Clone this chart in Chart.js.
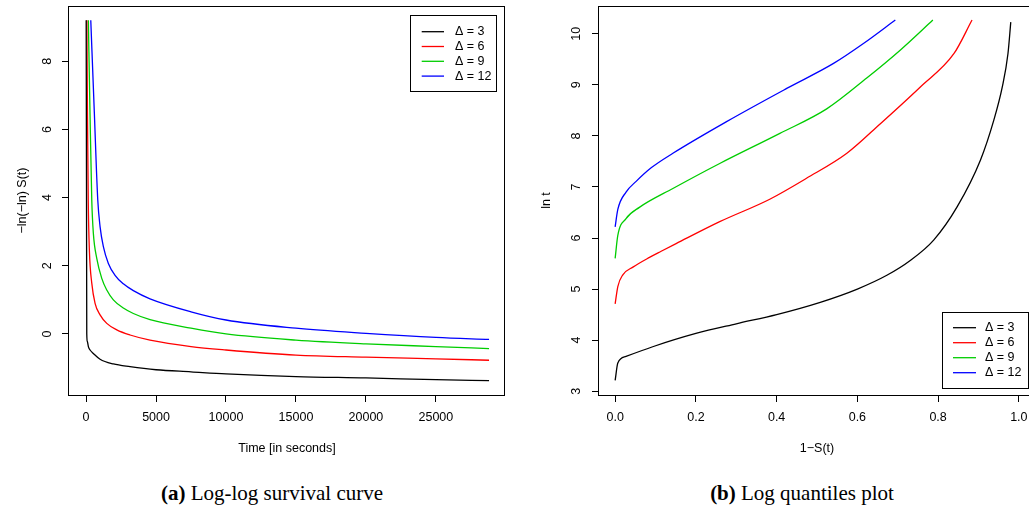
<!DOCTYPE html>
<html>
<head>
<meta charset="utf-8">
<script src="https://cdn.jsdelivr.net/npm/chart.js@4.4.1/dist/chart.umd.min.js"></script>
<style>
  body { margin: 0; width: 1029px; height: 509px; overflow: hidden; background: #fff; position: relative; }
  #ca { position: absolute; left: 0; top: 0; }
  #cb { position: absolute; left: 515px; top: 0; }
  .cap { position: absolute; top: 483px; font: 21px/21px "Liberation Serif", "Times New Roman", serif; white-space: nowrap; transform: translateX(-50%); }
</style>
</head>
<body>
<canvas id="ca" width="515" height="470"></canvas>
<canvas id="cb" width="525" height="470"></canvas>
<div class="cap" style="left:272px"><b>(a)</b> Log-log survival curve</div>
<div class="cap" style="left:802px"><b>(b)</b> Log quantiles plot</div>
<script>
// series legend
const deltaLabels = ['Δ = 3', 'Δ = 6', 'Δ = 9', 'Δ = 12'];
const colors = ['#000000', '#ff0000', '#00cd00', '#0000ff'];

// (a) log-log survival: time [s] -> -ln(-ln S(t))
const timeD3 = [8, 30, 50, 90, 164, 286, 521, 1000, 1950, 3143, 5000, 7500, 10000, 15000, 20000, 25000, 28800];
const llD3 = [9.2, 4.5, 0.0, -0.22, -0.37, -0.47, -0.57, -0.74, -0.88, -0.96, -1.05, -1.11, -1.17, -1.25, -1.29, -1.34, -1.37];
const timeD6 = [55, 100, 155, 236, 407, 643, 1000, 1479, 2193, 3143, 4571, 7500, 10000, 15000, 20000, 25000, 28800];
const llD6 = [9.2, 6.5, 3.93, 2.46, 1.49, 0.90, 0.56, 0.31, 0.12, -0.03, -0.18, -0.37, -0.47, -0.62, -0.68, -0.73, -0.77];
const timeD9 = [164, 280, 407, 521, 764, 1121, 1479, 1950, 2664, 3379, 4571, 7500, 10000, 15000, 20000, 25000, 28800];
const llD9 = [9.2, 6.5, 3.93, 2.95, 2.22, 1.63, 1.29, 1.0, 0.76, 0.60, 0.42, 0.17, 0.0, -0.18, -0.29, -0.37, -0.43];
const timeD12 = [336, 590, 836, 1000, 1236, 1593, 2071, 2664, 3379, 4571, 7500, 10000, 15000, 20000, 25000, 28800];
const llD12 = [9.2, 6.5, 3.93, 3.15, 2.56, 2.07, 1.72, 1.47, 1.27, 1.03, 0.65, 0.41, 0.17, 0.02, -0.10, -0.16];

// (b) log quantiles: 1-S(t) -> ln t
const fD3 = [0, 0.0066, 0.027, 0.093, 0.2, 0.3, 0.4, 0.508, 0.6, 0.673, 0.731, 0.789, 0.847, 0.905, 0.938, 0.959, 0.973, 0.980];
const lnD3 = [3.21, 3.55, 3.68, 3.87, 4.13, 4.32, 4.50, 4.74, 5.0, 5.27, 5.56, 5.96, 6.61, 7.53, 8.31, 8.96, 9.61, 10.23];
const fD6 = [0, 0.0066, 0.019, 0.044, 0.085, 0.114, 0.151, 0.259, 0.383, 0.474, 0.574, 0.657, 0.756, 0.839, 0.884];
const lnD6 = [4.71, 5.05, 5.28, 5.43, 5.62, 5.74, 5.89, 6.32, 6.76, 7.17, 7.66, 8.24, 8.96, 9.61, 10.27];
const fD9 = [0, 0.0066, 0.027, 0.06, 0.143, 0.259, 0.408, 0.524, 0.624, 0.706, 0.787];
const lnD9 = [5.60, 6.05, 6.38, 6.60, 6.97, 7.46, 8.05, 8.53, 9.14, 9.68, 10.27];
const fD12 = [0, 0.0066, 0.027, 0.052, 0.09, 0.143, 0.276, 0.425, 0.541, 0.615, 0.694];
const lnD12 = [6.22, 6.56, 6.90, 7.11, 7.38, 7.66, 8.28, 8.93, 9.42, 9.81, 10.27];

// tick labels
const ticksTime = [0, 5000, 10000, 15000, 20000, 25000];
const ticksLL = [0, 2, 4, 6, 8];
const ticksF = [0, 0.2, 0.4, 0.6, 0.8, 1.0];
const ticksLn = [3, 4, 5, 6, 7, 8, 9, 10];

const fam = '"Liberation Sans", Arial, Helvetica, sans-serif';
const font = { family: fam, size: 12.5 };
Chart.defaults.font.family = fam;
Chart.defaults.color = '#000';

function pts(xs, ys) {
  return xs.map((x, i) => ({ x: x, y: ys[i] }));
}

// plot box like R's bty="o"
const boxPlugin = {
  id: 'rbox',
  afterDatasetsDraw(chart) {
    const a = chart.chartArea, ctx = chart.ctx;
    ctx.save();
    ctx.strokeStyle = '#000';
    ctx.lineWidth = 1;
    ctx.strokeRect(Math.round(a.left) - 0.5, Math.round(a.top) + 0.5, Math.round(a.right - a.left), Math.round(a.bottom - a.top));
    ctx.restore();
  }
};

// boxed legend inside the plot
const legendPlugin = {
  id: 'rlegend',
  afterDraw(chart, args, o) {
    const ctx = chart.ctx;
    ctx.save();
    ctx.fillStyle = '#fff';
    ctx.fillRect(o.x, o.y, o.w, o.h);
    ctx.strokeStyle = '#000';
    ctx.lineWidth = 1;
    ctx.strokeRect(o.x + 0.5, o.y + 0.5, o.w, o.h);
    ctx.font = '12.5px ' + fam;
    ctx.textBaseline = 'middle';
    chart.data.datasets.forEach((ds, i) => {
      const yy = o.y + o.row0 + i * o.step;
      ctx.strokeStyle = ds.borderColor;
      ctx.lineWidth = 1.3;
      ctx.beginPath();
      ctx.moveTo(o.x + o.l0, yy);
      ctx.lineTo(o.x + o.l1, yy);
      ctx.stroke();
      ctx.fillStyle = '#000';
      ctx.fillText(ds.label, o.x + o.tx, yy);
    });
    ctx.restore();
  }
};

function makeChart(id, series, c) {
  return new Chart(document.getElementById(id), {
    type: 'scatter',
    data: {
      datasets: series.map((s, i) => ({
        label: deltaLabels[i],
        data: pts(s[0], s[1]),
        borderColor: colors[i],
        backgroundColor: colors[i],
        showLine: true,
        pointRadius: 0,
        borderWidth: 1.3,
        cubicInterpolationMode: 'monotone'
      }))
    },
    options: {
      responsive: false,
      animation: false,
      events: [],
      layout: { padding: { left: 0, top: 6, right: c.padRight, bottom: 0 } },
      plugins: { legend: { display: false }, tooltip: { enabled: false }, rlegend: c.legend },
      scales: {
        x: {
          type: 'linear', position: 'bottom', min: c.xmin, max: c.xmax,
          afterBuildTicks: s => { s.ticks = c.xticks.map(v => ({ value: v })); },
          afterFit: s => { s.height = 75; s.paddingLeft = 0; s.paddingRight = 0; },
          grid: { drawOnChartArea: false, tickLength: 7, color: '#000' },
          border: { display: false },
          ticks: { autoSkip: false, maxRotation: 0, padding: 8, font: font, callback: c.xfmt },
          title: { display: true, text: c.xtitle, font: font, padding: { top: 0, bottom: 13.5 } }
        },
        y: {
          type: 'linear', position: 'left', min: c.ymin, max: c.ymax,
          afterBuildTicks: s => { s.ticks = c.yticks.map(v => ({ value: v })); },
          afterFit: s => { s.width = c.yw; s.paddingTop = 0; s.paddingBottom = 0; },
          grid: { drawOnChartArea: false, tickLength: 7, color: '#000' },
          border: { display: false },
          ticks: { autoSkip: false, minRotation: 90, maxRotation: 90, crossAlign: 'center', padding: c.ypad, font: font, callback: v => String(v) },
          title: { display: true, text: c.ytitle, font: font, padding: { top: c.ytpad, bottom: 0 } }
        }
      }
    },
    plugins: [boxPlugin, legendPlugin]
  });
}

makeChart('ca', [[timeD3, llD3], [timeD6, llD6], [timeD9, llD9], [timeD12, llD12]], {
  xmin: -1220, xmax: 29940, ymin: -1.79, ymax: 9.62,
  xticks: ticksTime, yticks: ticksLL,
  xfmt: v => String(v),
  xtitle: 'Time [in seconds]', ytitle: '−ln(−ln) S(t)',
  yw: 69, padRight: 10, ypad: 10.5, ytpad: 15.5,
  legend: { x: 410, y: 15, w: 86, h: 76, row0: 16.7, step: 14.8, l0: 11.7, l1: 34, tx: 45 }
});

makeChart('cb', [[fD3, lnD3], [fD6, lnD6], [fD9, lnD9], [fD12, lnD12]], {
  xmin: -0.04, xmax: 1.04, ymin: 2.925, ymax: 10.545,
  xticks: ticksF, yticks: ticksLn,
  xfmt: v => v.toFixed(1),
  xtitle: '1−S(t)', ytitle: 'ln t',
  yw: 84, padRight: 5, ypad: 8.4, ytpad: 24.5,
  legend: { x: 427, y: 312, w: 86, h: 76, row0: 15.7, step: 15, l0: 11, l1: 34, tx: 43 }
});
</script>
</body>
</html>
